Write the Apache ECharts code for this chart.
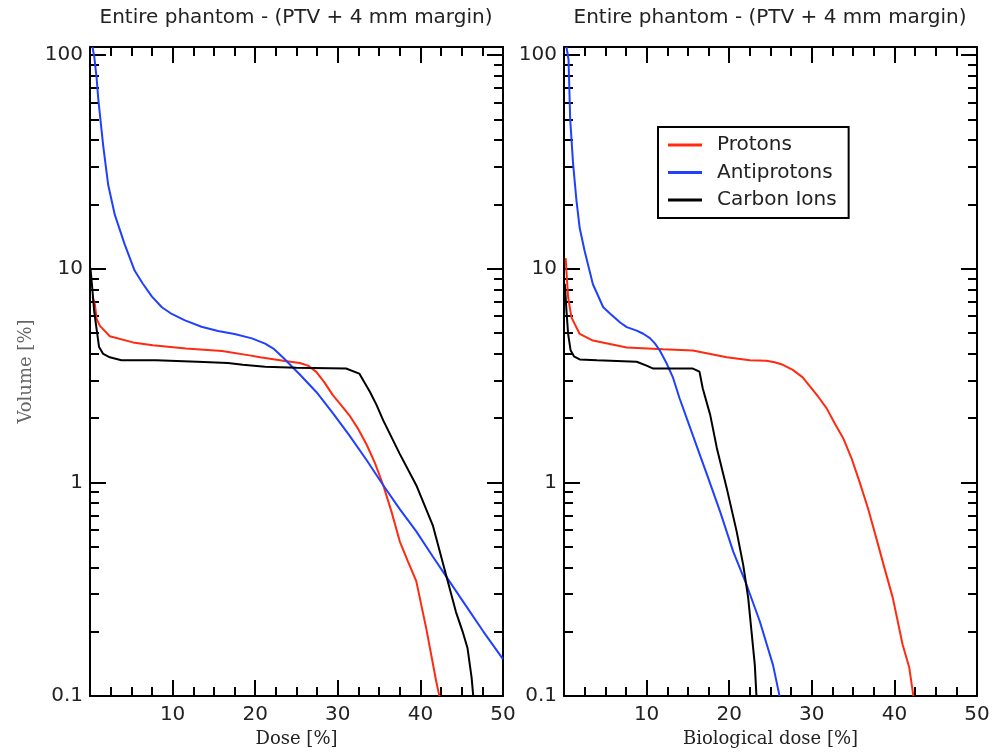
<!DOCTYPE html>
<html><head><meta charset="utf-8">
<script src="https://cdn.jsdelivr.net/npm/echarts@6/dist/echarts.min.js"></script>
<style>html,body{margin:0;padding:0;background:#fff}#c{width:999px;height:753px}</style>
</head><body><div id="c"></div>
<script>
const seriesNames = ['Protons', 'Antiprotons', 'Carbon Ions'];
const seriesColors = ['#ff2a10', '#2040ff', '#000000'];
const panelTitles = ['Entire phantom - (PTV + 4 mm margin)', 'Entire phantom - (PTV + 4 mm margin)'];
const xNames = ['Dose [%]', 'Biological dose [%]'];
const yName = 'Volume [%]';
const yMin = 0.1;
const yMax = 109;

// Left panel (physical dose)
const leftProtonsDose = [0.3, 0.6, 0.8, 1.2, 2.4, 5.2, 7.6, 11.6, 16.0, 19.3, 20.6, 23.6, 25.4, 26.4, 27.4, 28.4, 29.4, 30.4, 31.4, 32.5, 33.5, 34.5, 35.5, 36.5, 37.5, 38.5, 39.5, 40.7, 41.9, 42.3];
const leftProtonsVol  = [7.4, 6.77, 5.82, 5.40, 4.83, 4.52, 4.38, 4.23, 4.12, 3.93, 3.85, 3.70, 3.62, 3.52, 3.29, 2.93, 2.56, 2.30, 2.06, 1.77, 1.50, 1.23, 0.97, 0.73, 0.53, 0.426, 0.345, 0.208, 0.118, 0.1];
const leftAntiDose = [0.3, 0.52, 0.8, 1.0, 1.3, 1.6, 2.2, 3.0, 4.2, 5.4, 6.4, 7.5, 8.7, 9.9, 11.5, 13.5, 15.5, 17.5, 19.6, 21.2, 22.3, 23.4, 25.4, 27.4, 29.4, 31.4, 33.5, 35.5, 37.5, 39.5, 41.5, 43.5, 45.5, 47.6, 50];
const leftAntiVol  = [109, 98, 78, 62.4, 48.4, 37.6, 24.7, 17.9, 13.0, 9.8, 8.5, 7.4, 6.6, 6.14, 5.73, 5.35, 5.11, 4.95, 4.72, 4.46, 4.2, 3.83, 3.2, 2.65, 2.11, 1.66, 1.27, 0.97, 0.75, 0.59, 0.45, 0.345, 0.265, 0.201, 0.149];
const leftCarbonDose = [0.05, 0.3, 0.5, 0.8, 1.1, 1.6, 2.4, 3.8, 8.0, 13.0, 16.7, 18.5, 21.2, 25.0, 29.0, 31.0, 32.6, 33.9, 34.7, 35.5, 37.5, 39.5, 41.5, 43.1, 44.3, 45.1, 45.7, 46.2, 46.4];
const leftCarbonVol  = [10.1, 7.9, 6.35, 5.22, 4.3, 3.99, 3.85, 3.73, 3.73, 3.67, 3.62, 3.55, 3.48, 3.44, 3.42, 3.41, 3.23, 2.65, 2.3, 1.95, 1.36, 0.97, 0.63, 0.37, 0.248, 0.201, 0.168, 0.122, 0.1];

// Right panel (biological dose)
const rightProtonsDose = [0.2, 0.35, 0.5, 0.9, 1.9, 3.5, 7.6, 12.0, 15.6, 19.7, 22.5, 24.5, 25.5, 26.5, 27.7, 28.9, 29.7, 30.8, 31.8, 32.8, 33.8, 34.8, 35.8, 36.8, 37.8, 38.8, 39.8, 41.0, 41.8, 42.3];
const rightProtonsVol  = [11.2, 9.0, 7.35, 5.92, 4.95, 4.61, 4.28, 4.2, 4.14, 3.85, 3.73, 3.71, 3.65, 3.55, 3.36, 3.1, 2.84, 2.51, 2.22, 1.88, 1.61, 1.3, 1.0, 0.757, 0.55, 0.397, 0.289, 0.174, 0.136, 0.1];
const rightAntiDose = [0.3, 0.55, 0.75, 1.1, 1.5, 1.9, 2.5, 3.5, 4.75, 5.6, 6.8, 7.6, 8.8, 9.6, 10.4, 11.0, 11.6, 12.4, 13.2, 14.0, 15.6, 17.3, 18.9, 20.5, 22.1, 23.7, 25.3, 26.1];
const rightAntiVol  = [109, 95, 50, 31, 21, 15.5, 12.1, 8.46, 6.6, 6.15, 5.6, 5.33, 5.13, 4.96, 4.73, 4.47, 4.14, 3.62, 3.09, 2.47, 1.66, 1.09, 0.73, 0.473, 0.332, 0.224, 0.14, 0.1];
const rightCarbonDose = [0.1, 0.3, 0.5, 0.8, 1.2, 1.9, 4.0, 8.8, 10.0, 10.8, 15.6, 16.4, 16.8, 17.7, 18.5, 19.7, 20.9, 21.7, 22.3, 22.7, 23.1, 23.3];
const rightCarbonVol  = [8.5, 6.35, 4.95, 4.15, 3.89, 3.76, 3.73, 3.67, 3.52, 3.41, 3.41, 3.3, 2.75, 2.07, 1.45, 0.94, 0.59, 0.41, 0.288, 0.201, 0.14, 0.1];

const yMajorTicks = [0.1, 1, 10, 100];
const yMinorTicks = [0.2,0.3,0.4,0.5,0.6,0.7,0.8,0.9, 2,3,4,5,6,7,8,9, 20,30,40,50,60,70,80,90];

const zip = (a, b) => a.map((v, i) => [v, b[i]]);
const lineSt = { color: '#000', width: 2 };
const labelFont = { fontFamily: 'DejaVu Sans', fontSize: 20, color: '#222' };

function xAx(g, pos, showLabel, name) {
  return {
    type: 'value', gridIndex: g, position: pos, min: 0, max: 50, interval: 10,
    axisLine: { show: true, onZero: false, lineStyle: lineSt },
    axisTick: { show: true, inside: true, length: 16, lineStyle: lineSt },
    minorTick: { show: true, splitNumber: 4, length: 9, lineStyle: lineSt },
    splitLine: { show: false }, minorSplitLine: { show: false },
    axisLabel: Object.assign({ show: showLabel, margin: 9, formatter: v => (v === 0 ? '' : String(v)) }, labelFont),
    name: name || '', nameLocation: 'middle', nameGap: 33,
    nameTextStyle: { fontFamily: 'DejaVu Serif', fontSize: 18, color: '#222' }
  };
}
function logY(g, name) {
  return {
    type: 'log', logBase: 10, gridIndex: g, position: 'left', min: yMin, max: yMax,
    axisLine: { show: true, onZero: false, lineStyle: lineSt },
    axisTick: { show: true, inside: true, length: 16, lineStyle: lineSt },
    splitLine: { show: false },
    axisLabel: Object.assign({ margin: 7, showMaxLabel: false }, labelFont),
    name: name || '', nameLocation: 'middle', nameGap: 55, nameRotate: 90,
    nameTextStyle: { fontFamily: 'DejaVu Serif', fontSize: 18, color: '#666' }
  };
}
function decoY(g, pos, vals, len, line) {
  return {
    type: 'value', gridIndex: g, position: pos, min: Math.log10(yMin), max: Math.log10(yMax),
    axisLine: { show: line, onZero: false, lineStyle: lineSt },
    axisTick: { show: true, inside: true, length: len, customValues: vals.map(Math.log10), lineStyle: lineSt },
    axisLabel: { show: false }, splitLine: { show: false }
  };
}

const xAxis = [], yAxis = [];
[0, 1].forEach(g => {
  xAxis.push(xAx(g, 'bottom', true, xNames[g]));
  xAxis.push(xAx(g, 'top', false, ''));
  yAxis.push(logY(g, g === 0 ? yName : ''));
  yAxis.push(decoY(g, 'left', yMinorTicks, 9, false));
  yAxis.push(decoY(g, 'right', yMajorTicks, 16, true));
  yAxis.push(decoY(g, 'right', yMinorTicks, 9, false));
});

const panels = [
  [[leftProtonsDose, leftProtonsVol], [leftAntiDose, leftAntiVol], [leftCarbonDose, leftCarbonVol]],
  [[rightProtonsDose, rightProtonsVol], [rightAntiDose, rightAntiVol], [rightCarbonDose, rightCarbonVol]]
];
const series = [];
panels.forEach((p, g) => {
  p.forEach((d, i) => {
    series.push({
      type: 'line', name: seriesNames[i], xAxisIndex: g * 2, yAxisIndex: g * 4,
      data: zip(d[0], d[1]), showSymbol: false, symbol: 'none', clip: true,
      lineStyle: { width: 2, color: seriesColors[i] }, itemStyle: { color: seriesColors[i] }
    });
  });
});

const chart = echarts.init(document.getElementById('c'), null, { renderer: 'canvas' });
chart.setOption({
  animation: false,
  backgroundColor: '#fff',
  title: [
    { text: panelTitles[0], left: 296, top: 8, textAlign: 'center', padding: 0,
      textStyle: { fontFamily: 'DejaVu Sans', fontSize: 20, fontWeight: 'normal', color: '#222' } },
    { text: panelTitles[1], left: 770, top: 8, textAlign: 'center', padding: 0,
      textStyle: { fontFamily: 'DejaVu Sans', fontSize: 20, fontWeight: 'normal', color: '#222' } }
  ],
  grid: [
    { left: 90, top: 47, width: 413, height: 652 },
    { left: 564, top: 47, width: 413, height: 652 }
  ],
  legend: {
    data: seriesNames, left: 658, top: 127, orient: 'vertical', icon: 'rect',
    itemWidth: 34, itemHeight: 3, itemGap: 7.5, padding: [8, 12, 8, 10],
    borderColor: '#000', borderWidth: 2, borderRadius: 0, backgroundColor: '#fff',
    selectedMode: false,
    textStyle: { fontFamily: 'DejaVu Sans', fontSize: 20, color: '#222', padding: [0, 0, 0, 10] }
  },
  xAxis, yAxis, series
});
</script></body></html>
